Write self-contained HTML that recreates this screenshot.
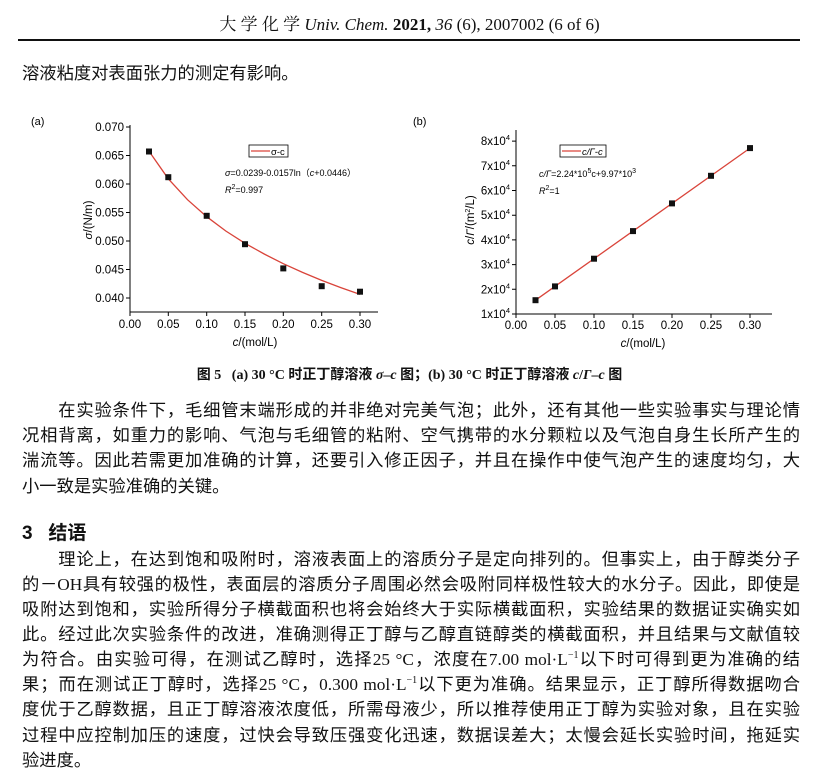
<!DOCTYPE html>
<html><head><meta charset="utf-8"><style>
body{margin:0;width:819px;height:784px;background:#fff;position:relative;overflow:hidden;font-family:"Liberation Serif","Noto Serif CJK SC","Noto Sans CJK SC",serif;color:#111}
.l{position:absolute;left:22px;width:778px;font-size:17.3px;line-height:22px;height:22px;text-align:justify;text-align-last:justify;white-space:nowrap;font-family:"Liberation Serif","Noto Sans CJK SC",sans-serif}
.ll{text-align-last:left}
sup{font-size:10px;line-height:0;vertical-align:baseline;position:relative;top:-7px}
svg text{font-family:"Liberation Sans",Arial,sans-serif}
</style></head><body>
<div style="position:absolute;left:0;width:819px;top:10px;text-align:center;font-size:17px;font-family:'Liberation Serif','Noto Serif CJK SC',serif">大 学 化 学 <i>Univ. Chem.</i> <b>2021,</b> <i>36</i> (6), 2007002 (6 of 6)</div>
<div style="position:absolute;left:18px;width:782px;top:39px;height:1.5px;background:#111"></div>
<div class="l ll" style="top:63px">溶液粘度对表面张力的测定有影响。</div>

<svg style="position:absolute;left:0;top:0" width="819" height="360">
<text x="31" y="125" font-size="11" font-family="Liberation Serif">(a)</text>
<g stroke="#000" stroke-width="1" fill="none">
<path d="M130,125V312H378"/>
<path d="M126,127H130M126,155.5H130M126,184H130M126,212.5H130M126,241H130M126,269.5H130M126,298H130"/>
<path d="M130,312v4M168.3,312v4M206.7,312v4M245,312v4M283.3,312v4M321.7,312v4M360,312v4"/>
</g>
<g font-size="11.5" text-anchor="end">
<text x="124" y="131">0.070</text><text x="124" y="159.5">0.065</text><text x="124" y="188">0.060</text><text x="124" y="216.5">0.055</text><text x="124" y="245">0.050</text><text x="124" y="273.5">0.045</text><text x="124" y="302">0.040</text>
</g>
<g font-size="11.5" text-anchor="middle">
<text x="130" y="328">0.00</text><text x="168.3" y="328">0.05</text><text x="206.7" y="328">0.10</text><text x="245" y="328">0.15</text><text x="283.3" y="328">0.20</text><text x="321.7" y="328">0.25</text><text x="360" y="328">0.30</text>
<text x="255" y="346"><tspan font-style="italic">c</tspan>/(mol/L)</text>
<text transform="translate(92,220) rotate(-90)"><tspan font-style="italic">σ</tspan>/(N/m)</text>
</g>
<path d="M149.2,151.5L168.3,178.8L187.5,199.7L206.7,216.7L225.8,231L245,243.3L264.2,254L283.3,263.7L302.5,272.4L321.7,280.4L340.8,287.6L360,294.4" stroke="#d9443a" stroke-width="1.3" fill="none"/>
<g fill="#111">
<rect x="146" y="148.5" width="6" height="6"/><rect x="165.3" y="174.2" width="6" height="6"/><rect x="203.7" y="212.8" width="6" height="6"/><rect x="242" y="241.2" width="6" height="6"/><rect x="280.3" y="265.4" width="6" height="6"/><rect x="318.7" y="283.2" width="6" height="6"/><rect x="357" y="288.7" width="6" height="6"/>
</g>
<rect x="249" y="145" width="39" height="12" fill="#fff" stroke="#000" stroke-width="0.8"/>
<path d="M251,151H270" stroke="#d9443a" stroke-width="1.3"/>
<text x="271" y="155" font-size="9.5">σ-c</text>
<text x="225" y="176" font-size="9"><tspan font-style="italic">σ</tspan>=0.0239-0.0157ln（<tspan font-style="italic">c</tspan>+0.0446）</text>
<text x="225" y="193" font-size="9"><tspan font-style="italic">R</tspan><tspan dy="-4" font-size="7">2</tspan><tspan dy="4">=0.997</tspan></text>

<text x="413" y="125" font-size="11" font-family="Liberation Serif">(b)</text>
<g stroke="#000" stroke-width="1" fill="none">
<path d="M516,130V314H772"/>
<path d="M512,314H516M512,289.3H516M512,264.6H516M512,239.9H516M512,215.2H516M512,190.5H516M512,165.8H516M512,141.1H516"/>
<path d="M516,314v4M555,314v4M594,314v4M633,314v4M672,314v4M711,314v4M750,314v4"/>
</g>
<g font-size="11.5" text-anchor="end">
<text x="510" y="318">1x10<tspan dy="-5" font-size="7.5">4</tspan></text>
<text x="510" y="293.3">2x10<tspan dy="-5" font-size="7.5">4</tspan></text>
<text x="510" y="268.6">3x10<tspan dy="-5" font-size="7.5">4</tspan></text>
<text x="510" y="243.9">4x10<tspan dy="-5" font-size="7.5">4</tspan></text>
<text x="510" y="219.2">5x10<tspan dy="-5" font-size="7.5">4</tspan></text>
<text x="510" y="194.5">6x10<tspan dy="-5" font-size="7.5">4</tspan></text>
<text x="510" y="169.8">7x10<tspan dy="-5" font-size="7.5">4</tspan></text>
<text x="510" y="145.1">8x10<tspan dy="-5" font-size="7.5">4</tspan></text>
</g>
<g font-size="11.5" text-anchor="middle">
<text x="516" y="329">0.00</text><text x="555" y="329">0.05</text><text x="594" y="329">0.10</text><text x="633" y="329">0.15</text><text x="672" y="329">0.20</text><text x="711" y="329">0.25</text><text x="750" y="329">0.30</text>
<text x="643" y="347"><tspan font-style="italic">c</tspan>/(mol/L)</text>
<text transform="translate(474,220) rotate(-90)"><tspan font-style="italic">c</tspan>/<tspan font-style="italic">Γ</tspan>/(m<tspan dy="-4" font-size="7">2</tspan><tspan dy="4">/L)</tspan></text>
</g>
<path d="M535.5,300.2L750,148.1" stroke="#d9443a" stroke-width="1.3"/>
<g fill="#111">
<rect x="532.5" y="297.2" width="6" height="6"/><rect x="552" y="283.4" width="6" height="6"/><rect x="591" y="255.7" width="6" height="6"/><rect x="630" y="228.1" width="6" height="6"/><rect x="669" y="200.4" width="6" height="6"/><rect x="708" y="172.8" width="6" height="6"/><rect x="747" y="145.1" width="6" height="6"/>
</g>
<rect x="560" y="145" width="46" height="12" fill="#fff" stroke="#000" stroke-width="0.8"/>
<path d="M562,151H581" stroke="#d9443a" stroke-width="1.3"/>
<text x="582" y="155" font-size="9.5" font-style="italic">c/Γ-c</text>
<text x="539" y="177" font-size="9"><tspan font-style="italic">c/Γ</tspan>=2.24*10<tspan dy="-4" font-size="7">5</tspan><tspan dy="4">c+9.97*10</tspan><tspan dy="-4" font-size="7">3</tspan></text>
<text x="539" y="194" font-size="9"><tspan font-style="italic">R</tspan><tspan dy="-4" font-size="7">2</tspan><tspan dy="4">=1</tspan></text>
</svg>

<div style="position:absolute;left:0;width:819px;top:364px;text-align:center;font-size:14px;font-weight:bold;font-family:'Liberation Serif','Noto Sans CJK SC',serif">图 5&nbsp;&nbsp; (a) 30 °C 时正丁醇溶液 <i>σ</i>–<i>c</i> 图；(b) 30 °C 时正丁醇溶液 <i>c</i>/<i>Γ</i>–<i>c</i> 图</div>

<div class="l" style="top:400px">　　在实验条件下，毛细管末端形成的并非绝对完美气泡；此外，还有其他一些实验事实与理论情</div>
<div class="l" style="top:425px">况相背离，如重力的影响、气泡与毛细管的粘附、空气携带的水分颗粒以及气泡自身生长所产生的</div>
<div class="l" style="top:450px">湍流等。因此若需更加准确的计算，还要引入修正因子，并且在操作中使气泡产生的速度均匀，大</div>
<div class="l ll" style="top:476px">小一致是实验准确的关键。</div>
<div class="l ll" style="top:523px;font-size:19px;font-weight:bold;font-family:'Liberation Sans','Noto Sans CJK SC',sans-serif">3&nbsp;&nbsp; 结语</div>
<div class="l" style="top:549px">　　理论上，在达到饱和吸附时，溶液表面上的溶质分子是定向排列的。但事实上，由于醇类分子</div>
<div class="l" style="top:574px">的－OH具有较强的极性，表面层的溶质分子周围必然会吸附同样极性较大的水分子。因此，即使是</div>
<div class="l" style="top:599px">吸附达到饱和，实验所得分子横截面积也将会始终大于实际横截面积，实验结果的数据证实确实如</div>
<div class="l" style="top:624px">此。经过此次实验条件的改进，准确测得正丁醇与乙醇直链醇类的横截面积，并且结果与文献值较</div>
<div class="l" style="top:649px">为符合。由实验可得，在测试乙醇时，选择25 °C，浓度在7.00 mol·L<sup>−1</sup>以下时可得到更为准确的结</div>
<div class="l" style="top:674px">果；而在测试正丁醇时，选择25 °C，0.300 mol·L<sup>−1</sup>以下更为准确。结果显示，正丁醇所得数据吻合</div>
<div class="l" style="top:699px">度优于乙醇数据，且正丁醇溶液浓度低，所需母液少，所以推荐使用正丁醇为实验对象，且在实验</div>
<div class="l" style="top:725px">过程中应控制加压的速度，过快会导致压强变化迅速，数据误差大；太慢会延长实验时间，拖延实</div>
<div class="l ll" style="top:750px">验进度。</div>
</body></html>
